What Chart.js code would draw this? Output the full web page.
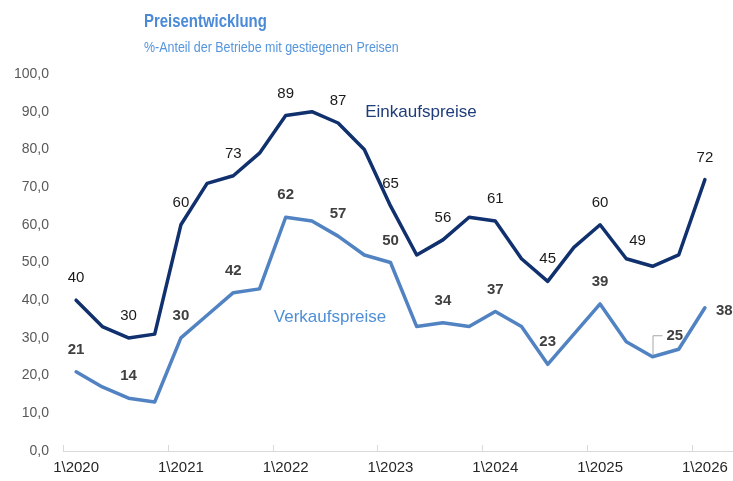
<!DOCTYPE html>
<html lang="de">
<head>
<meta charset="utf-8">
<title>Preisentwicklung</title>
<script src="https://cdn.jsdelivr.net/npm/chart.js@4.4.1/dist/chart.umd.min.js"></script>
<style>
  html, body { margin: 0; padding: 0; background: #fff; }
  #wrap { position: relative; width: 733px; height: 481px; }
  #wrap canvas { position: absolute; left: 0; top: 0; }
  #title, #subtitle {
    position: absolute; left: 144px; white-space: nowrap;
    transform: scaleX(0.83); transform-origin: 0 0;
  }
  #title {
    top: 10px;
    font: bold 18px/22px "Liberation Sans", Arial, sans-serif;
    color: #4a8ad6;
  }
  #subtitle {
    top: 38px;
    font: 15px/18px "Liberation Sans", Arial, sans-serif;
    color: #5595dc;
  }
</style>
</head>
<body>
<div id="wrap">
  <canvas id="priceChart" width="733" height="481"></canvas>
  <div id="title">Preisentwicklung</div>
  <div id="subtitle">%-Anteil der Betriebe mit gestiegenen Preisen</div>
</div>
<script>
// quarters, Q1 2020 .. Q1 2026
const quarters = [
  "1\\2020", "2\\2020", "3\\2020", "4\\2020",
  "1\\2021", "2\\2021", "3\\2021", "4\\2021",
  "1\\2022", "2\\2022", "3\\2022", "4\\2022",
  "1\\2023", "2\\2023", "3\\2023", "4\\2023",
  "1\\2024", "2\\2024", "3\\2024", "4\\2024",
  "1\\2025", "2\\2025", "3\\2025", "4\\2025",
  "1\\2026"
];
const einkaufspreise = [40, 33, 30, 31, 60, 71, 73, 79, 89, 90, 87, 80, 65, 52, 56, 62, 61, 51, 45, 54, 60, 51, 49, 52, 72];
const verkaufspreise = [21, 17, 14, 13, 30, 36, 42, 43, 62, 61, 57, 52, 50, 33, 34, 33, 37, 33, 23, 31, 39, 29, 25, 27, 38];
const yTicks = [0, 10, 20, 30, 40, 50, 60, 70, 80, 90, 100];

const navy = "#10306e";
const lightBlue = "#5183c3";

// x axis line + short inside tick marks every 4 quarters
const axisPlugin = {
    id: "axisLine",
    beforeDatasetsDraw: function (chart) {
        const ctx = chart.ctx;
        const area = chart.chartArea;
        const xs = chart.scales.x;
        const half = (xs.getPixelForValue(1) - xs.getPixelForValue(0)) / 2;
        ctx.save();
        ctx.strokeStyle = "#d9d9d9";
        ctx.lineWidth = 1;
        ctx.beginPath();
        ctx.moveTo(area.left, area.bottom + 0.5);
        ctx.lineTo(chart.width, area.bottom + 0.5);
        for (let i = 0; i < quarters.length; i += 4) {
            const x = Math.round(xs.getPixelForValue(i) - half) + 0.5;
            ctx.moveTo(x, area.bottom - 6);
            ctx.lineTo(x, area.bottom);
        }
        ctx.stroke();
        ctx.restore();
    }
};

// value labels on every second point + series names
const labelPlugin = {
    id: "pointLabels",
    afterDatasetsDraw: function (chart) {
        const ctx = chart.ctx;
        ctx.save();
        ctx.textAlign = "center";
        ctx.textBaseline = "middle";

        chart.data.datasets.forEach(function (ds, d) {
            const meta = chart.getDatasetMeta(d);
            ctx.font = (d === 1 ? "bold " : "") + "15px 'Liberation Sans', Arial, sans-serif";
            ctx.fillStyle = d === 1 ? "#404040" : "#1a1a1a";
            meta.data.forEach(function (pt, i) {
                if (i % 2 !== 0) return;
                const txt = String(Math.round(ds.data[i]));
                if (d === 0 && i === 22) {
                    ctx.fillText(txt, pt.x - 15, pt.y - 25);
                } else if (d === 1 && i === 22) {
                    // leader line to the moved label
                    ctx.strokeStyle = "#a6a6a6";
                    ctx.lineWidth = 1;
                    ctx.beginPath();
                    ctx.moveTo(pt.x + 0.5, pt.y - 2);
                    ctx.lineTo(pt.x + 0.5, pt.y - 21);
                    ctx.lineTo(pt.x + 10, pt.y - 21);
                    ctx.stroke();
                    ctx.textAlign = "left";
                    ctx.fillText(txt, pt.x + 14, pt.y - 21);
                    ctx.textAlign = "center";
                } else if (d === 1 && i === 24) {
                    ctx.textAlign = "left";
                    ctx.fillText(txt, pt.x + 11, pt.y + 3);
                    ctx.textAlign = "center";
                } else {
                    ctx.fillText(txt, pt.x, pt.y - 22);
                }
            });
        });

        ctx.font = "17px 'Liberation Sans', Arial, sans-serif";
        ctx.fillStyle = "#1f3d7a";
        ctx.fillText("Einkaufspreise", 421, 112);
        ctx.fillStyle = "#4f8fd6";
        ctx.fillText("Verkaufspreise", 330, 317);
        ctx.restore();
    }
};

const canvas = document.getElementById("priceChart").getContext("2d");

const priceChart = new Chart(canvas, {
    type: "line",
    data: {
        labels: quarters,
        datasets: [
            {
                label: "Einkaufspreise",
                data: einkaufspreise,
                borderColor: navy,
                borderWidth: 3.5,
                pointRadius: 0,
                tension: 0,
                borderJoinStyle: "round",
                borderCapStyle: "round"
            },
            {
                label: "Verkaufspreise",
                data: verkaufspreise,
                borderColor: lightBlue,
                borderWidth: 3.5,
                pointRadius: 0,
                tension: 0,
                borderJoinStyle: "round",
                borderCapStyle: "round"
            }
        ]
    },
    options: {
        responsive: false,
        animation: false,
        layout: { padding: { top: 74, right: 15, bottom: 0, left: 0 } },
        plugins: {
            legend: { display: false },
            tooltip: { enabled: false }
        },
        scales: {
            x: {
                offset: true,
                grid: { display: false, drawTicks: false },
                border: { display: false },
                afterFit: function (s) {
                    s.height = 30;
                    s.paddingLeft = 0;
                    s.paddingRight = 0;
                },
                ticks: {
                    autoSkip: false,
                    maxRotation: 0,
                    padding: 8,
                    color: "#262626",
                    font: { family: "'Liberation Sans', Arial, sans-serif", size: 15 },
                    callback: function (val, i) {
                        return i % 4 === 0 ? this.getLabelForValue(val) : "";
                    }
                }
            },
            y: {
                min: 0,
                max: 100,
                grid: { display: false, drawTicks: false },
                border: { display: false },
                afterFit: function (s) { s.width = 63; },
                afterBuildTicks: function (s) {
                    s.ticks = yTicks.map(function (v) { return { value: v }; });
                },
                ticks: {
                    padding: 14,
                    color: "#595959",
                    font: { family: "'Liberation Sans', Arial, sans-serif", size: 14 },
                    callback: function (v) { return v.toFixed(1).replace(".", ","); }
                }
            }
        }
    },
    plugins: [axisPlugin, labelPlugin]
});
</script>
</body>
</html>
